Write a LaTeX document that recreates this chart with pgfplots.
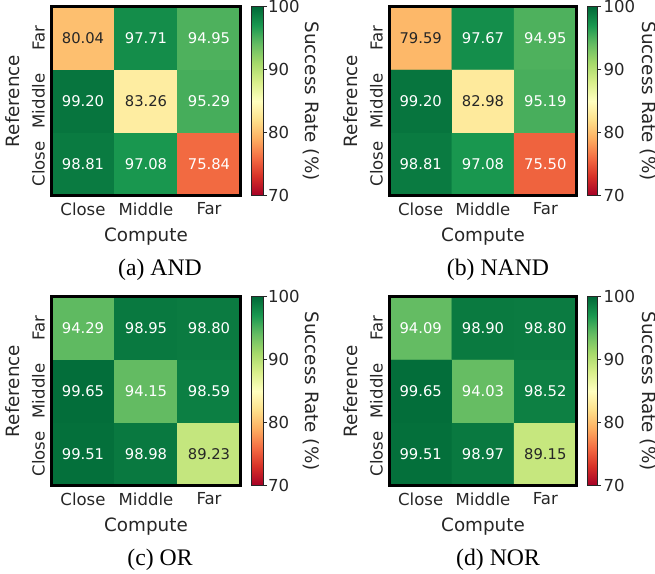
\documentclass[border=0pt]{standalone}
\usepackage{pgfplots}
\pgfplotsset{compat=1.18}
\usepackage{pgfplotstable}
\usepackage{fontspec}
\setmainfont{DejaVu Sans}
\newfontfamily\capfont{Liberation Serif}
\definecolor{txt}{RGB}{38,38,38}
\newcommand\fs{\fontsize{16.6}{19}\selectfont}
\newcommand\fl{\fontsize{18.4}{21}\selectfont}
\newcommand\fa{\fontsize{14.8}{17}\selectfont}

\pgfplotstableread{
x y v
0 0 98.81
1 0 97.08
2 0 75.84
0 1 99.20
1 1 83.26
2 1 95.29
0 2 80.04
1 2 97.71
2 2 94.95
}\tA
\pgfplotstableread{
x y v
0 0 98.81
1 0 97.08
2 0 75.50
0 1 99.20
1 1 82.98
2 1 95.19
0 2 79.59
1 2 97.67
2 2 94.95
}\tB
\pgfplotstableread{
x y v
0 0 99.51
1 0 98.98
2 0 89.23
0 1 99.65
1 1 94.15
2 1 98.59
0 2 94.29
1 2 98.95
2 2 98.80
}\tC
\pgfplotstableread{
x y v
0 0 99.51
1 0 98.97
2 0 89.15
0 1 99.65
1 1 94.03
2 1 98.52
0 2 94.09
1 2 98.90
2 2 98.80
}\tD

\newcommand\lbl[1]{\edef\tmpv{#1}\pgfmathparse{and(\tmpv>77,\tmpv<92)}\ifdim\pgfmathresult pt>0.5pt\color{txt}\else\color{white}\fi\tmpv}

\pgfplotsset{
  colormap={RdYlGn}{rgb255=(165,0,38) rgb255=(215,48,39) rgb255=(244,109,67) rgb255=(253,174,97) rgb255=(254,224,139) rgb255=(255,255,191) rgb255=(217,239,139) rgb255=(166,217,106) rgb255=(102,189,99) rgb255=(26,152,80) rgb255=(0,104,55)},
  hm/.style={
    scale only axis, width=189bp, height=189bp,
    xmin=-0.5, xmax=2.5, ymin=-0.5, ymax=2.5,
    enlargelimits=false,
    axis line style={draw=none},
    xtick={0,1,2}, ytick={0,1,2},
    xticklabels={Close,Middle,Far}, yticklabels={Close,Middle,Far},
    major tick length=0pt, tick style={draw=none},
    tick label style={font=\fs, text=txt},
    yticklabel style={xshift=-6.5bp, rotate=90, anchor=south, inner sep=0pt},
    xticklabel style={yshift=-7bp, anchor=north, inner sep=0pt},
    xlabel=Compute, ylabel=Reference,
    xlabel style={font=\fl, text=txt, at={(axis description cs:0.5,-0.172)}, anchor=north, inner sep=0pt},
    ylabel style={font=\fl, text=txt, at={(axis description cs:-0.167,0.5)}, anchor=south, inner sep=0pt},
    colormap name=RdYlGn, point meta min=70, point meta max=100,
    extra description/.code={\draw[line width=3bp, black] (0,0) rectangle (1,1);},
    colorbar,
    colorbar style={
      scale only axis, width=12bp, height=189bp,
      at={(parent axis.north east)}, anchor=north west, xshift=2bp,
      extra description/.code={},
      xtick=\empty,
      ytick={70,80,90,100},
      yticklabels={70,80,90,100},
      ytick pos=right, yticklabel pos=right,
      tick align=outside, major tick length=4bp,
      ytick style={draw=txt, line width=0.8bp},
      tick label style={font=\fs, text=txt},
      yticklabel style={xshift=1bp, rotate=0, anchor=west, inner sep=0pt},
      axis line style={draw=txt, line width=0.8bp},
      ylabel={Success Rate (\%)},
      ylabel style={font=\fl, text=txt, rotate=180, at={(axis description cs:4.29,0.5)}, anchor=south, inner sep=0pt},
    },
  },
  hmr/.style={hm, width=187bp,
    colorbar style={width=10bp,
      yticklabel style={xshift=1.5bp},
      ylabel style={at={(axis description cs:5.25,0.5)}}}},
  lab/.style={only marks, mark=none, point meta=explicit symbolic,
    nodes near coords={\lbl{\pgfplotspointmeta}},
    every node near coord/.style={anchor=center, font=\fa}},
}

\begin{document}
\begin{tikzpicture}
\useasboundingbox (0,0) rectangle (655bp,-574bp);
\begin{axis}[hm, at={(51.5bp,-195.5bp)}, anchor=south west]
\addplot[matrix plot*, mesh/cols=3, point meta=explicit] table[x=x,y=y,meta=v]{\tA};
\addplot[lab] table[x=x,y=y,meta=v]{\tA};
\end{axis}
\begin{axis}[hmr, at={(389.5bp,-195.5bp)}, anchor=south west]
\addplot[matrix plot*, mesh/cols=3, point meta=explicit] table[x=x,y=y,meta=v]{\tB};
\addplot[lab] table[x=x,y=y,meta=v]{\tB};
\end{axis}
\begin{axis}[hm, at={(51.5bp,-485.5bp)}, anchor=south west]
\addplot[matrix plot*, mesh/cols=3, point meta=explicit] table[x=x,y=y,meta=v]{\tC};
\addplot[lab] table[x=x,y=y,meta=v]{\tC};
\end{axis}
\begin{axis}[hmr, at={(389.5bp,-485.5bp)}, anchor=south west]
\addplot[matrix plot*, mesh/cols=3, point meta=explicit] table[x=x,y=y,meta=v]{\tD};
\addplot[lab] table[x=x,y=y,meta=v]{\tD};
\end{axis}
\node[font=\capfont\fontsize{23.8}{27}\selectfont, anchor=base] at (160bp,-275bp) {(a) AND};
\node[font=\capfont\fontsize{23.8}{27}\selectfont, anchor=base] at (498bp,-275bp) {(b) NAND};
\node[font=\capfont\fontsize{23.8}{27}\selectfont, anchor=base] at (160bp,-565bp) {(c) OR};
\node[font=\capfont\fontsize{23.8}{27}\selectfont, anchor=base] at (498bp,-565bp) {(d) NOR};
\end{tikzpicture}
\end{document}
